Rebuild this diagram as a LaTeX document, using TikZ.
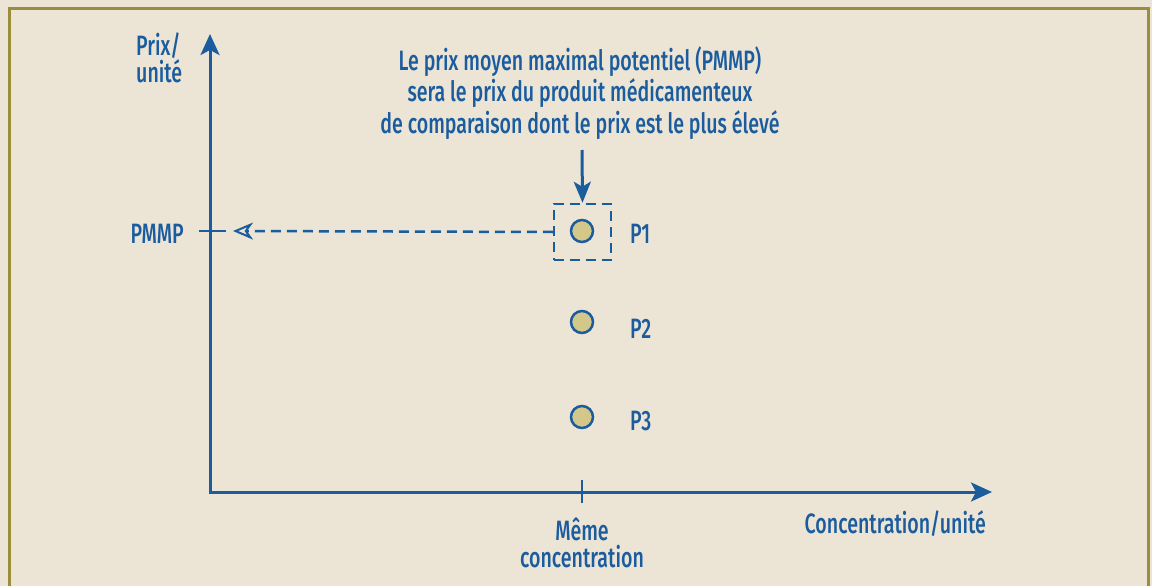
\documentclass[tikz,border=0pt]{standalone}
\usepackage{fontspec}
\setmainfont{Fira Sans}[FakeStretch=0.70, UprightFont={* Medium}]
\usetikzlibrary{arrows.meta,positioning}
\definecolor{txtblue}{HTML}{1B5C9E}
\definecolor{paper}{HTML}{ECE5D6}
\definecolor{olive}{HTML}{9A8D3C}
\definecolor{dotfill}{HTML}{D3C88A}
\tikzset{axis/.style={line width=3pt, draw=txtblue, -{Stealth[length=21pt,width=19pt,inset=5pt]}},
  lbl/.style={text=txtblue, font=\fontsize{28}{27}\selectfont, inner sep=0pt, align=center},
  dot/.style={circle, draw=txtblue, line width=2.5pt, fill=dotfill, minimum size=22pt, inner sep=0pt},
  dashbox/.style={draw=txtblue, line width=2.5pt, dash pattern=on 10pt off 6pt}}

\begin{document}
\begin{tikzpicture}[x=1pt,y=-1pt]
    \useasboundingbox (0,0) rectangle (1152,586);
    \fill[paper] (0,0) rectangle (1152,586);
    \draw[olive, line width=3pt] (9.5,600) -- (9.5,8.5) -- (1148.5,8.5) -- (1148.5,600);
    % axes
    \coordinate (O) at (210,492);
    \coordinate (ytop) at (210,34);
    \coordinate (xend) at (992,492);
    \draw[axis] (210,493.5) -- (ytop);
    \draw[axis] (O) -- (xend);
    \node[lbl, anchor=base west, align=left] (prix) at (136,82) {Prix/\\unité};
    \node[lbl, anchor=base east] (conc) at (986,533) {Concentration/unité};
    % ticks
    \coordinate (tickT) at (582,480);
    \coordinate (tickB) at (582,503);
    \draw[txtblue, line width=2.5pt] (tickT) -- (tickB);
    \node[lbl, anchor=base] (meme) at (582,567) {Même\\concentration};
    \node[lbl, anchor=base east] (pmmp) at (184,243) {PMMP};
    \coordinate (tickL) at (199,231);
    \coordinate (tickR) at (226,231);
    \draw[txtblue, line width=2.5pt] (tickL) -- (tickR);
    % products
    \node[dot] (P1) at (582,231) {};
    \node[dot] (P2) at (582,322) {};
    \node[dot] (P3) at (582,417) {};
    \node[lbl, anchor=base west] (lbl1) at (630,243) {P1};
    \node[lbl, anchor=base west] (lbl2) at (630,338) {P2};
    \node[lbl, anchor=base west] (lbl3) at (630,430) {P3};
    \node[dashbox, minimum width=57pt, minimum height=56pt, inner sep=0pt] (box) at (582.5,232) {};
    \coordinate (ptip) at (233,231);
    \draw[dashbox, -{Stealth[open, length=20pt, width=17pt, inset=6pt, line width=2pt]}] (box.west) -- (ptip);
    % note
    \node[lbl, anchor=base, font=\fontsize{28}{31.5}\selectfont] (note) at (580,133) {Le prix moyen maximal potentiel (PMMP)\\sera le prix du produit médicamenteux\\de comparaison dont le prix est le plus élevé};
    \coordinate (noteend) at (582,150);
    \draw[axis, -{Stealth[length=21pt,width=17pt,inset=5pt]}] (noteend) -- (box.north);
\end{tikzpicture}
\end{document}
